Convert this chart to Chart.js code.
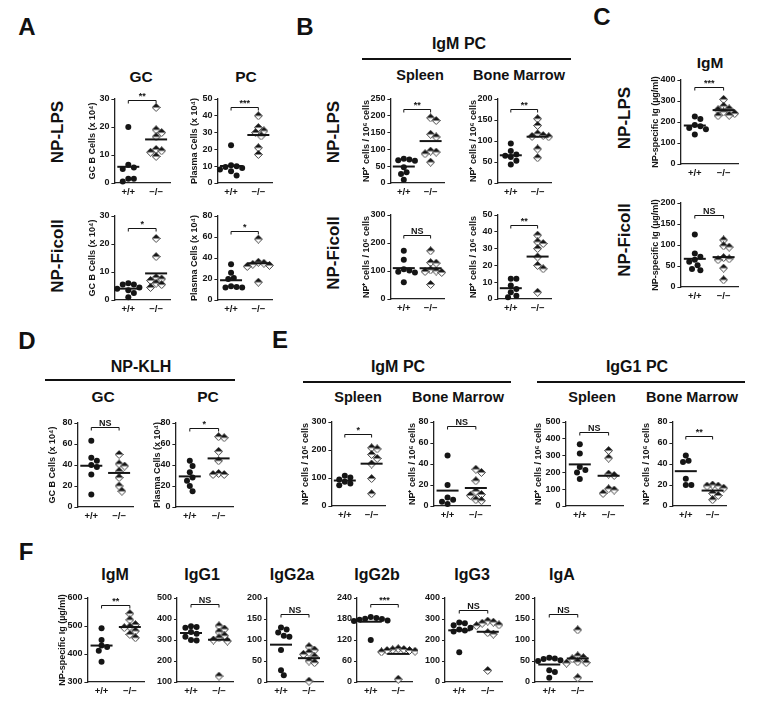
<!DOCTYPE html>
<html><head><meta charset="utf-8">
<script src="https://cdn.jsdelivr.net/npm/chart.js@4.4.1/dist/chart.umd.min.js"></script>
<style>
body{margin:0;background:#fff}
#fig{position:relative;width:765px;height:710px;overflow:hidden;font-family:"Liberation Sans",Arial,sans-serif;font-weight:bold;color:#111}
.t{position:absolute;white-space:nowrap;transform:translate(-50%,-50%);line-height:1}
.r{transform:translate(-50%,-50%) rotate(-90deg)}
.hl{position:absolute;height:0;border-top:2px solid #111}
canvas{position:absolute}
</style></head><body><div id="fig"></div>
<script>
// groups and tick labels
const groups = ["+/+", "\u2212/\u2212"];
const tk30 = [0,10,20,30], tk50 = [0,10,20,30,40,50], tk80 = [0,20,40,60,80];
const tk200 = [0,50,100,150,200], tk250 = [0,50,100,150,200,250], tk300 = [0,100,200,300];
const tk400 = [0,100,200,300,400], tk500 = [0,100,200,300,400,500];
const tkIgm = [300,400,500,600], tkIgg1 = [100,200,300,400,500], tk240 = [0,60,120,180,240];

// A
const aLpsGcWt = [20, 6.5, 5.5, 5, 1.5, 1.5, 0.5], aLpsGcKo = [27, 19, 18, 16.5, 12, 11.5, 11, 9.5];
const aLpsPcWt = [22.5, 10.5, 10, 9.5, 9, 8, 7, 4.5], aLpsPcKo = [40, 33, 31, 30, 28, 21, 17];
const aFicGcWt = [6, 5.5, 5.5, 4.5, 4, 3.5, 2.5, 1], aFicGcKo = [22, 15.5, 8, 7.5, 7, 6, 5.5, 4.5];
const aFicPcWt = [34, 26, 21, 20, 13, 12.5, 12, 12], aFicPcKo = [58, 36, 35, 34, 33, 32, 17];
// B
const bLpsSpWt = [72, 70, 68, 66, 47, 32, 27, 10], bLpsSpKo = [194, 186, 145, 137, 95, 92, 87, 62];
const bLpsBmWt = [94, 76, 68, 65, 62, 53, 44], bLpsBmKo = [153, 137, 117, 113, 111, 110, 81, 60];
const bFicSpWt = [172, 140, 106, 102, 97, 95, 60], bFicSpKo = [172, 130, 128, 104, 100, 98, 95, 52];
const bFicBmWt = [12, 12, 8, 6, 4, 2, 1], bFicBmKo = [38, 34, 33, 30, 25, 20, 18, 4];
// C
const cLpsWt = [226, 214, 186, 180, 172, 165, 140], cLpsKo = [308, 275, 262, 258, 248, 240, 232, 230];
const cFicWt = [125, 80, 72, 65, 60, 52, 43, 40], cFicKo = [112, 98, 95, 70, 67, 65, 45, 17];
// D
const dGcWt = [63, 47, 44, 40, 38, 31, 12], dGcKo = [50, 41, 39, 34, 28, 20, 15];
const dPcWt = [44, 39, 33, 28, 25, 20, 15], dPcKo = [67, 66, 53, 44, 32, 31, 31];
// E
const eIgmSpWt = [108, 102, 95, 87, 80, 74], eIgmSpKo = [208, 204, 184, 170, 150, 98, 44];
const eIgmBmWt = [48, 20, 8, 6, 4, 2], eIgmBmKo = [35, 32, 24, 14, 11, 10, 6, 5];
const eIgg1SpWt = [367, 312, 232, 215, 200, 160], eIgg1SpKo = [330, 285, 190, 182, 102, 95, 75];
const eIgg1BmWt = [48, 43, 42, 26, 20, 20], eIgg1BmKo = [20, 19, 19, 17, 12, 10, 6];
// F
const fIgmWt = [492, 450, 430, 425, 412, 372], fIgmKo = [544, 522, 505, 497, 494, 482, 470, 458];
const fIgg1Wt = [365, 362, 358, 338, 330, 315, 300, 298], fIgg1Ko = [367, 352, 338, 320, 310, 300, 295, 128];
const fIgg2aWt = [130, 125, 118, 110, 108, 76, 28, 16], fIgg2aKo = [84, 76, 70, 66, 60, 50, 46, 2];
const fIgg2bWt = [186, 183, 181, 180, 178, 176, 174, 120], fIgg2bKo = [95, 93, 92, 90, 90, 88, 86, 8];
const fIgg3Wt = [283, 280, 270, 258, 250, 245, 240, 142], fIgg3Ko = [290, 285, 280, 272, 268, 235, 228, 55];
const fIgaWt = [58, 56, 55, 52, 50, 28, 24, 10], fIgaKo = [124, 62, 58, 55, 48, 46, 45, 10];

const yGc = "GC B Cells (x 10\u2074)", yPc = "Plasma Cells (x 10\u2074)";
const yNp = "NP\u207A cells / 10\u2076 cells", yIg = "NP-specific Ig (\u00B5g/ml)";

const FONT = '"Liberation Sans", Arial, sans-serif';
const PLOT_H = 84, INK = "#151515";
const fig = document.getElementById("fig");

const panels = [
  {ax:114, top:99,  w:56, wt:aLpsGcWt, ko:aLpsGcKo, ticks:tk30, title:yGc, tOff:22, sig:"**",  br:29.5},
  {ax:217, top:99,  w:55, wt:aLpsPcWt, ko:aLpsPcKo, ticks:tk50, title:yPc, tOff:23, sig:"***", br:45.5},
  {ax:114, top:216, w:56, wt:aFicGcWt, ko:aFicGcKo, ticks:tk30, title:yGc, tOff:22, sig:"*",   br:25.6},
  {ax:217, top:216, w:55, wt:aFicPcWt, ko:aFicPcKo, ticks:tk80, title:yPc, tOff:23, sig:"*",   br:66},
  {ax:390, top:99,  w:54, wt:bLpsSpWt, ko:bLpsSpKo, ticks:tk250, title:yNp, tOff:24, sig:"**", br:221},
  {ax:497, top:99,  w:54, wt:bLpsBmWt, ko:bLpsBmKo, ticks:tk200, title:yNp, tOff:24, sig:"**", br:177},
  {ax:390, top:215, w:54, wt:bFicSpWt, ko:bFicSpKo, ticks:tk300, title:yNp, tOff:24, sig:"NS", br:230},
  {ax:497, top:215, w:54, wt:bFicBmWt, ko:bFicBmKo, ticks:tk50,  title:yNp, tOff:24, sig:"**", br:44},
  {ax:680, top:80,  w:58, wt:cLpsWt, ko:cLpsKo, ticks:tk400, title:yIg, tOff:25, sig:"***", br:367},
  {ax:680, top:203, w:58, wt:cFicWt, ko:cFicKo, ticks:tk200, title:yIg, tOff:25, sig:"NS",  br:172},
  {ax:77,  top:423, w:56, wt:dGcWt, ko:dGcKo, ticks:tk80, title:yGc, tOff:25, sig:"NS", br:76},
  {ax:175, top:423, w:58, wt:dPcWt, ko:dPcKo, ticks:tk80, title:yPc, tOff:18, sig:"*",  br:75.5},
  {ax:331, top:422, w:54, wt:eIgmSpWt, ko:eIgmSpKo, ticks:tk300, title:yNp, tOff:26, sig:"*",  br:256},
  {ax:433, top:422, w:57, wt:eIgmBmWt, ko:eIgmBmKo, ticks:tk80,  title:yNp, tOff:21, sig:"NS", br:76},
  {ax:565, top:422, w:58, wt:eIgg1SpWt, ko:eIgg1SpKo, ticks:tk500, title:yNp, tOff:27, sig:"NS", br:440},
  {ax:672, top:422, w:54, wt:eIgg1BmWt, ko:eIgg1BmKo, ticks:tk80,  title:yNp, tOff:26, sig:"**", br:67},
  {ax:87,  top:598, w:57, wt:fIgmWt, ko:fIgmKo, ticks:tkIgm, title:yIg, tOff:25, sig:"**", br:576},
  {ax:177, top:598, w:56, wt:fIgg1Wt, ko:fIgg1Ko, ticks:tkIgg1, sig:"NS", br:470},
  {ax:267, top:598, w:56, wt:fIgg2aWt, ko:fIgg2aKo, ticks:tk200, sig:"NS", br:163},
  {ax:357, top:598, w:55, wt:fIgg2bWt, ko:fIgg2bKo, ticks:tk240, sig:"***", br:223},
  {ax:445, top:598, w:57, wt:fIgg3Wt, ko:fIgg3Ko, ticks:tk400, sig:"NS", br:342},
  {ax:535, top:598, w:57, wt:fIgaWt, ko:fIgaKo, ticks:tk200, sig:"NS", br:161},
];

// text labels: [text, x, y, size, rotated]
const labels = [
  ["A",27,27,24],["B",305,27,24],["C",602,17,24],["D",27,341,24],["E",280,340,24],["F",26,552,24],
  ["NP-LPS",57,132,17,1],["NP-Ficoll",57,256,17,1],["NP-LPS",333,132,17,1],["NP-Ficoll",333,253,17,1],
  ["NP-LPS",624,118,17,1],["NP-Ficoll",624,240,17,1],
  ["GC",141,77,15.5],["PC",246,77,15.5],["IgM PC",459,44,16],["Spleen",420,75,14.5],["Bone Marrow",519,75,14.5],
  ["IgM",710,63,15.5],["NP-KLH",141,367,16],["GC",103,397,15.5],["PC",208,397,15.5],
  ["IgM PC",398,367,16],["IgG1 PC",637,367,16],["Spleen",358,397,14.5],["Bone Marrow",458,397,14.5],
  ["Spleen",592,397,14.5],["Bone Marrow",692,397,14.5],
  ["IgM",115,575,16],["IgG1",202,575,16],["IgG2a",292,575,16],["IgG2b",377,575,16],["IgG3",472,575,16],["IgA",562,575,16]
];
const hlines = [[362,571,59],[45,235,380],[303,511,382],[537,745,382]];

labels.forEach(([s,x,y,sz,rot]) => {
  const d = document.createElement("div");
  d.className = "t" + (rot ? " r" : "");
  d.textContent = s;
  d.style.cssText += `left:${x}px;top:${y}px;font-size:${sz}px`;
  fig.appendChild(d);
});
hlines.forEach(([x1,x2,y]) => {
  const d = document.createElement("div");
  d.className = "hl";
  d.style.cssText += `left:${x1}px;top:${y-1}px;width:${x2-x1}px`;
  fig.appendChild(d);
});

function diamondImg() {
  const s = 9, c = document.createElement("canvas");
  c.width = c.height = s;
  const g = c.getContext("2d");
  const path = () => { g.beginPath(); g.moveTo(s/2,0.5); g.lineTo(s-0.5,s/2); g.lineTo(s/2,s-0.5); g.lineTo(0.5,s/2); g.closePath(); };
  path(); g.fillStyle = "#fff"; g.fill();
  g.beginPath(); g.moveTo(s/2,0.5); g.lineTo(s-0.5,s/2); g.lineTo(0.5,s/2); g.closePath(); g.fillStyle = INK; g.fill();
  path(); g.strokeStyle = "#444"; g.lineWidth = 1; g.stroke();
  return c;
}
const diamond = diamondImg();

// simple beeswarm so points of one group don't sit on top of each other
function swarm(vals, cat, p) {
  const min = p.ticks[0], max = p.ticks[p.ticks.length-1];
  const pyU = PLOT_H/(max-min), pxU = p.w/2, d = 5.6, placed = [];
  return vals.map(v => {
    const py = (v-min)*pyU;
    let off = 0;
    for (let k = 0; k < 30; k++) {
      const c = k === 0 ? 0 : (k%2 ? 1 : -1)*Math.ceil(k/2)*d/2;
      if (placed.every(q => Math.hypot(q[0]-c, q[1]-py) >= d)) { off = c; break; }
    }
    placed.push([off, py]);
    return {x: cat + off/pxU, y: v};
  });
}

function marks(p) {
  return {id:"marks", afterDatasetsDraw(ch) {
    const x = ch.scales.x, y = ch.scales.y, g = ch.ctx;
    g.save();
    g.strokeStyle = INK; g.lineWidth = 2;
    [p.wt, p.ko].forEach((vals,i) => {
      const m = vals.reduce((a,b)=>a+b,0)/vals.length;
      const cx = x.getPixelForValue(i+1), cy = y.getPixelForValue(m);
      g.beginPath(); g.moveTo(cx-11,cy); g.lineTo(cx+11,cy); g.stroke();
    });
    const x1 = x.getPixelForValue(1), x2 = x.getPixelForValue(2), by = Math.round(y.getPixelForValue(p.br))+0.5;
    g.lineWidth = 1;
    g.beginPath(); g.moveTo(x1,by+3); g.lineTo(x1,by); g.lineTo(x2,by); g.lineTo(x2,by+3); g.stroke();
    g.font = "bold 9px " + FONT; g.textAlign = "center"; g.fillStyle = INK;
    g.fillText(p.sig, (x1+x2)/2, by-2);
    g.restore();
  }};
}

function makePanel(p) {
  const yW = p.title ? p.tOff + 5.4 : 26, padTop = 16, padRight = 6, xH = 18;
  const cv = document.createElement("canvas");
  cv.width = yW + p.w + padRight; cv.height = padTop + PLOT_H + xH;
  cv.style.width = cv.width + "px"; cv.style.height = cv.height + "px";
  fig.appendChild(cv);
  const tickFont = {family:FONT, size:9, weight:"bold"};
  const ch = new Chart(cv.getContext("2d"), {
    type:"scatter",
    data:{datasets:[
      {data:swarm(p.wt,1,p), pointStyle:"circle", pointRadius:3, backgroundColor:INK, borderColor:INK, borderWidth:0, clip:false},
      {data:swarm(p.ko,2,p), pointStyle:diamond, pointRadius:4.5, clip:false}
    ]},
    options:{
      responsive:false, animation:false, devicePixelRatio:1,
      layout:{padding:{top:padTop, right:padRight, left:0, bottom:0}},
      plugins:{legend:{display:false}, tooltip:{enabled:false}},
      scales:{
        x:{type:"linear", min:0.5, max:2.5,
           afterBuildTicks:s => { s.ticks = groups.map((_,i)=>({value:i+1})); },
           afterFit:s => { s.height = xH; },
           ticks:{callback:v => groups[v-1], font:{family:FONT, size:9.5, weight:"bold"}, color:INK, padding:4, maxRotation:0, autoSkip:false},
           grid:{display:false, drawTicks:false}, border:{display:true, color:"#222", width:1.3}},
        y:{type:"linear", min:p.ticks[0], max:p.ticks[p.ticks.length-1],
           afterBuildTicks:s => { s.ticks = p.ticks.map(v=>({value:v})); },
           afterFit:s => { s.width = yW; },
           ticks:{font:tickFont, color:INK, padding:2},
           grid:{display:true, drawOnChartArea:false, drawTicks:true, tickLength:3, color:"#222", lineWidth:1},
           border:{display:true, color:"#222", width:1.3},
           title:{display:!!p.title, text:p.title || "", font:tickFont, color:INK, padding:0}}
      }
    },
    plugins:[marks(p)]
  });
  cv.style.left = (p.ax - ch.chartArea.left) + "px";
  cv.style.top = (p.top - ch.chartArea.top) + "px";
}
panels.forEach(makePanel);
</script></body></html>
